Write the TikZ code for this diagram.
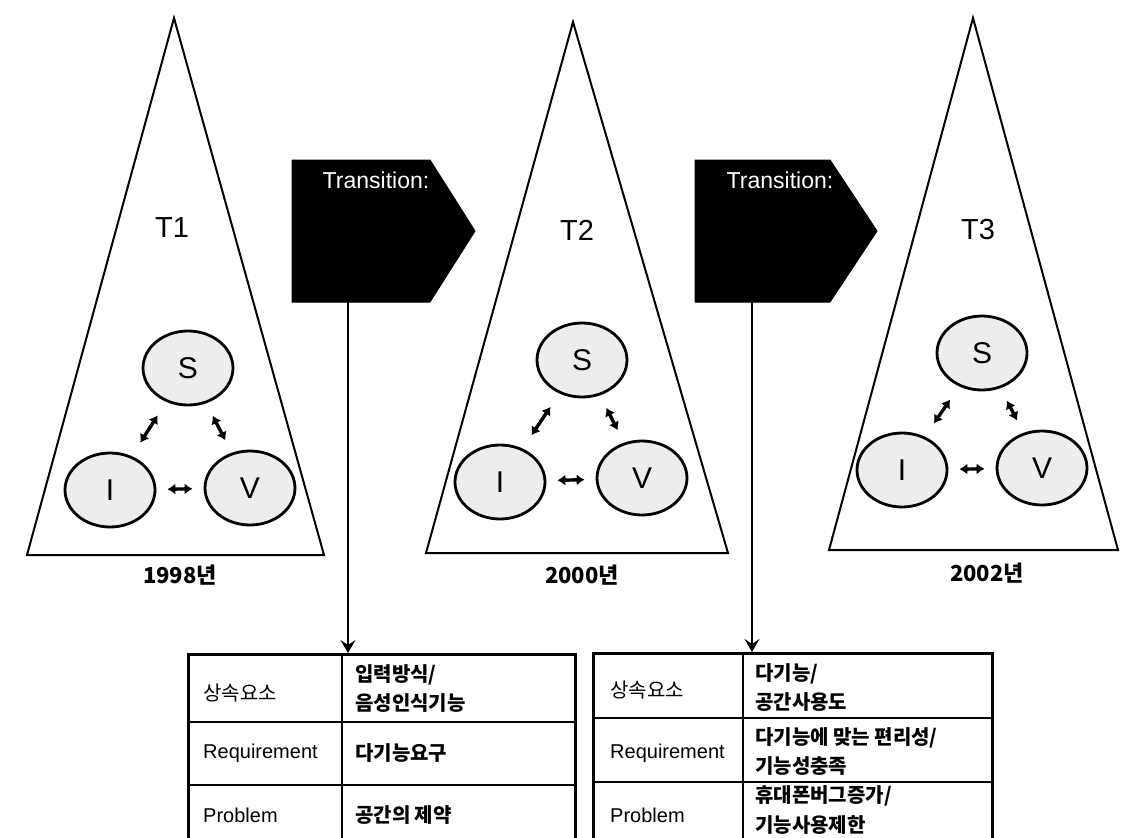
\documentclass[tikz,border=0pt]{standalone}
\usepackage{fontspec}
\setmainfont{Liberation Sans}
\newfontfamily\kr{Noto Sans CJK KR}
\usetikzlibrary{arrows.meta,shapes.geometric}

\tikzset{
  tri/.style={draw, line width=2pt, line join=miter, fill=white},
  circ/.style={ellipse, draw, line width=2.8pt, fill=gray!14, minimum width=90pt, minimum height=74pt, inner sep=0pt, font=\fontsize{30}{30}\selectfont},
  dbl/.style={line width=3.4pt, {Latex[length=8pt,width=11pt]}-{Latex[length=8pt,width=11pt]}},
  tlabel/.style={inner sep=0pt, font=\fontsize{29}{29}\selectfont},
  year/.style={inner sep=0pt, font=\kr\bfseries\fontsize{22}{22}\selectfont},
  trans/.style={fill=black, draw=black, line width=1pt, line join=round},
  trtext/.style={inner sep=0pt, text=white, font=\fontsize{23}{23}\selectfont},
  conn/.style={line width=1.3pt, -{Stealth[length=13pt,width=15pt,inset=5pt]}},
  tblo/.style={line width=3pt},
  tbli/.style={line width=2pt},
  cellen/.style={anchor=west, inner sep=0pt, font=\fontsize{20}{20}\selectfont},
  cellkr/.style={anchor=west, inner sep=0pt, font=\kr\fontsize{20}{20}\selectfont},
  cellkrb/.style={anchor=west, inner sep=0pt, align=left, font=\kr\bfseries\fontsize{20}{29}\selectfont},
}

\begin{document}
\begin{tikzpicture}[x=1pt,y=-1pt]
\useasboundingbox (0,0) rectangle (1122,838);
\clip (0,0) rectangle (1122,838);

% ---------- triangles ----------
\draw[tri] (174,18) -- (324,555) -- (27,555) -- cycle;
\draw[tri] (573,22) -- (728,553) -- (426,553) -- cycle;
\draw[tri] (973,18) -- (1118,550) -- (829,550) -- cycle;

\node[tlabel] (T1) at (172,228) {T1};
\node[tlabel] (T2) at (577,230) {T2};
\node[tlabel] (T3) at (978,230) {T3};

% ---------- SIV circles ----------
\node[circ] (S1) at (188,368) {S};
\node[circ] (I1) at (110,490) {I};
\node[circ] (V1) at (250,488) {V};
\node[circ] (S2) at (582,360) {S};
\node[circ] (I2) at (500,482) {I};
\node[circ] (V2) at (642,478) {V};
\node[circ] (S3) at (982,353) {S};
\node[circ] (I3) at (902,470) {I};
\node[circ] (V3) at (1042,468) {V};

\foreach \k in {1,2,3}{
  \draw[dbl, shorten <=16pt, shorten >=16pt] (S\k) -- (I\k);
  \draw[dbl, shorten <=14pt, shorten >=14pt] (S\k) -- (V\k);
  \draw[dbl, shorten <=11pt, shorten >=11pt] (I\k) -- (V\k);
}

\node[year] (Y1) at (180,575) {1998년};
\node[year] (Y2) at (582,575) {2000년};
\node[year] (Y3) at (987,573) {2002년};

% ---------- transition boxes ----------
\filldraw[trans] (292,160) -- (430,160) -- (475,231) -- (430,302) -- (292,302) -- cycle;
\node[trtext] (tr1) at (376,180) {Transition:};
\filldraw[trans] (695,160) -- (830,160) -- (877,231) -- (830,302) -- (695,302) -- cycle;
\node[trtext] (tr2) at (780,180) {Transition:};

\coordinate (tr1b) at (348,302);
\coordinate (tr2b) at (752,302);
\coordinate (tab1t) at (348,653);
\coordinate (tab2t) at (752,652);
\draw[conn] (tr1b) -- (tab1t);
\draw[conn] (tr2b) -- (tab2t);

% ---------- table 1 ----------
\draw[tblo] (188,850) -- (188,654) -- (575,654) -- (575,850);
\draw[tbli] (342,654) -- (342,850);
\draw[tbli] (188,722) -- (575,722);
\draw[tbli] (188,785) -- (575,785);

\node[cellkr]  (a11) at (203,693) {상속요소};
\node[cellkrb] (a12) at (355,689) {입력방식/\\음성인식기능};
\node[cellen]  (a21) at (203,753) {Requirement};
\node[cellkrb] (a22) at (355,753) {다기능요구};
\node[cellen]  (a31) at (203,815) {Problem};
\node[cellkrb] (a32) at (355,815) {공간의 제약};

% ---------- table 2 ----------
\draw[tblo] (593,850) -- (593,653) -- (992,653) -- (992,850);
\draw[tbli] (743,653) -- (743,850);
\draw[tbli] (593,718) -- (992,718);
\draw[tbli] (593,782) -- (992,782);

\node[cellkr]  (b11) at (610,690) {상속요소};
\node[cellkrb] (b12) at (755,688) {다기능/\\공간사용도};
\node[cellen]  (b21) at (610,753) {Requirement};
\node[cellkrb] (b22) at (755,752) {다기능에 맞는 편리성/\\기능성충족};
\node[cellen]  (b31) at (610,815) {Problem};
\node[cellkrb] (b32) at (755,810) {휴대폰버그증가/\\기능사용제한};
\end{tikzpicture}
\end{document}
